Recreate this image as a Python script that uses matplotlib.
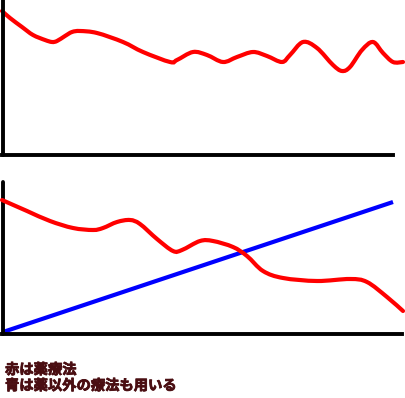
import numpy as np
import matplotlib
matplotlib.use("Agg")
import matplotlib.pyplot as plt
from matplotlib.path import Path
from matplotlib.patches import PathPatch
import matplotlib.patheffects as pe

# ---- data (x = time, y = level above baseline) ----
top_red_x = [2, 10, 22, 33, 45, 52, 57, 65, 72, 80, 97, 123, 143, 170, 177, 193, 207, 223, 237,
             253, 267, 282, 290, 303, 317, 333, 342, 350, 362, 373, 383, 393, 403]
top_red_y = [144, 137, 128, 120, 115, 113, 114, 119, 123, 124, 122, 113, 103, 93, 95, 103, 100, 93, 98,
             103, 99, 93, 100, 113, 107, 90, 84, 88, 105, 113, 102, 93, 93]

bot_red_x = [2, 27, 50, 73, 93, 103, 117, 130, 140, 157, 173, 182, 200, 213, 233, 247,
             263, 283, 317, 350, 367, 387, 403]
bot_red_y = [134, 123, 113, 106, 104, 106, 112, 114, 110, 95, 83, 84, 93, 93, 87, 78,
             63, 56, 53, 55, 52, 37, 23]

bot_blue_x = [3, 393]
bot_blue_y = [2, 132]

labels = ["赤は薬療法", "青は薬以外の療法も用いる"]

W, H = 406, 398
fig = plt.figure(figsize=(W / 100, H / 100), dpi=100)
plt.rcParams['font.family'] = ['Noto Sans CJK JP', 'DejaVu Sans']


def smooth_path(xs, ys):
    pts = np.column_stack([xs, ys]).astype(float)
    n = len(pts)
    verts = [pts[0]]
    codes = [Path.MOVETO]
    for i in range(n - 1):
        p0 = pts[i - 1] if i > 0 else pts[i]
        p1 = pts[i]
        p2 = pts[i + 1]
        p3 = pts[i + 2] if i + 2 < n else pts[i + 1]
        c1 = p1 + (p2 - p0) / 6.0
        c2 = p2 - (p3 - p1) / 6.0
        verts += [c1, c2, p2]
        codes += [Path.CURVE4] * 3
    return Path(verts, codes)


def make_panel(top_px, bot_px, base_px, yaxis_top_px, xaxis_end):
    ax = fig.add_axes([0, 1 - bot_px / H, 1, (bot_px - top_px) / H])
    ax.set_xlim(0, W)
    ax.set_ylim(base_px - bot_px, base_px - top_px)
    for s in ['top', 'right']:
        ax.spines[s].set_visible(False)
    ax.spines['left'].set_position(('data', 3))
    ax.spines['bottom'].set_position(('data', 0))
    ax.spines['left'].set_linewidth(2.8)
    ax.spines['bottom'].set_linewidth(2.8)
    ax.spines['left'].set_bounds(0, base_px - yaxis_top_px)
    ax.spines['bottom'].set_bounds(2, xaxis_end)
    ax.spines['left'].set_capstyle('round')
    ax.set_xticks([])
    ax.set_yticks([])
    ax.patch.set_alpha(0)
    return ax


ax1 = make_panel(0, 162, 155, 0, 393)
ax1.add_patch(PathPatch(smooth_path(top_red_x, top_red_y), fill=False,
                        edgecolor='#ff0000', lw=3.0, capstyle='round', clip_on=False))

ax2 = make_panel(178, 342, 334, 182, 402)
ax2.plot(bot_blue_x, bot_blue_y, color='#0000ff', lw=3.0, solid_capstyle='butt', zorder=2)
ax2.add_patch(PathPatch(smooth_path(bot_red_x, bot_red_y), fill=False,
                        edgecolor='#ff0000', lw=3.0, capstyle='round', clip_on=False, zorder=3))

tcol = '#4a0e12'
effects = [pe.withStroke(linewidth=0.6, foreground=tcol)]
fig.text(5 / W, 1 - 370 / H, labels[0], fontsize=10.3, fontweight='bold',
         color=tcol, va='center', ha='left', path_effects=effects)
fig.text(5 / W, 1 - 386 / H, labels[1], fontsize=10.3, fontweight='bold',
         color=tcol, va='center', ha='left', path_effects=effects)

fig.savefig("out.png", dpi=100)
